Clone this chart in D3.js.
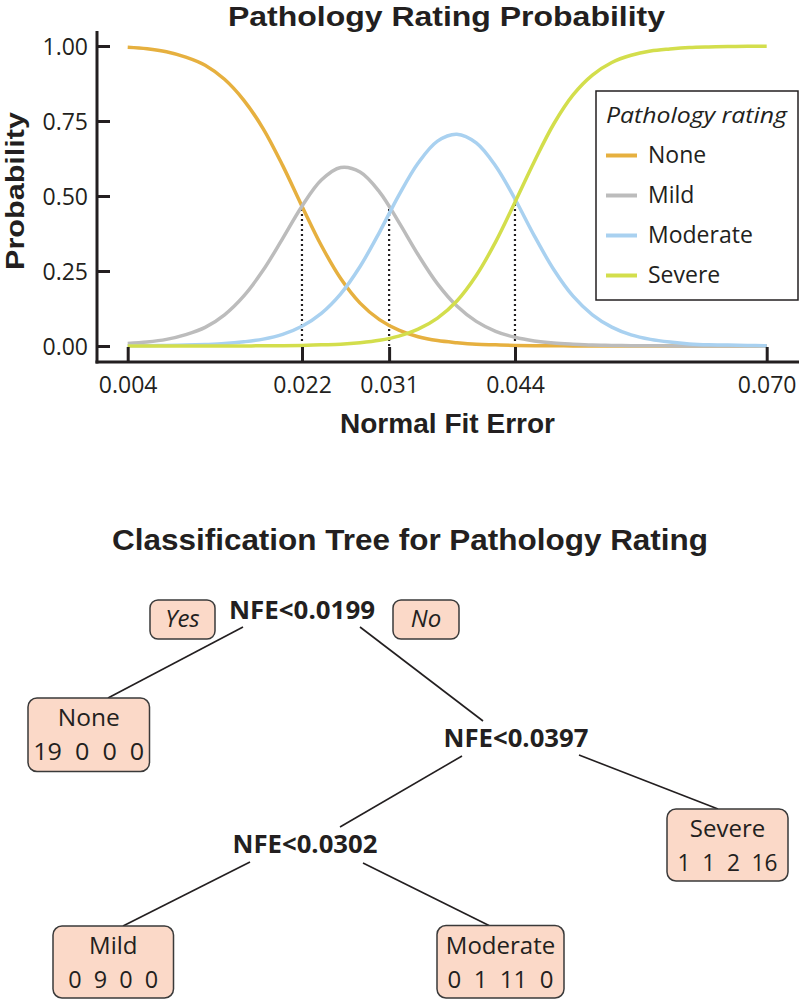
<!DOCTYPE html>
<html><head><meta charset="utf-8">
<script src="https://cdn.jsdelivr.net/npm/d3@7"></script>
<style>
html,body{margin:0;padding:0;background:#fff;}
svg{display:block;font-family:"Open Sans",sans-serif;}
.hd{font-family:"Liberation Sans",Arial,sans-serif;font-weight:700;}
</style></head><body>
<svg id="c" width="800" height="1000"></svg>
<script>
// ---------------- DATA ----------------
const xValues = [0.004,0.006,0.008,0.010,0.012,0.014,0.016,0.018,0.020,0.022,0.024,0.026,0.028,0.030,0.032,0.034,0.036,0.038,0.040,0.042,0.044,0.046,0.048,0.050,0.052,0.054,0.056,0.058,0.060,0.062,0.064,0.066,0.068,0.070];
const noneProb = [0.996,0.991,0.981,0.963,0.936,0.889,0.819,0.724,0.602,0.466,0.335,0.225,0.143,0.088,0.053,0.031,0.018,0.011,0.006,0.004,0.002,0.001,0.001,0.000,0.000,0.000,0.000,0.000,0.000,0.000,0.000,0.000,0.000,0.000];
const mildProb = [0.008,0.013,0.022,0.038,0.062,0.104,0.167,0.253,0.358,0.466,0.553,0.595,0.580,0.514,0.413,0.304,0.207,0.133,0.082,0.049,0.029,0.017,0.010,0.006,0.003,0.002,0.001,0.001,0.000,0.000,0.000,0.000,0.000,0.000];
const moderateProb = [0.001,0.001,0.002,0.003,0.005,0.008,0.014,0.023,0.039,0.066,0.109,0.174,0.265,0.379,0.502,0.610,0.683,0.706,0.677,0.600,0.490,0.367,0.255,0.166,0.104,0.063,0.037,0.022,0.013,0.007,0.004,0.003,0.002,0.001];
const severeProb = [0.000,0.000,0.000,0.000,0.000,0.000,0.000,0.001,0.001,0.002,0.004,0.006,0.011,0.019,0.033,0.056,0.093,0.150,0.235,0.347,0.479,0.615,0.740,0.837,0.903,0.945,0.969,0.983,0.990,0.995,0.997,0.998,0.999,0.999];
const seriesNames = ["None","Mild","Moderate","Severe"];
const xTicks = [0.004,0.022,0.031,0.044,0.070];
const yTicks = [0,0.25,0.50,0.75,1.00];
const cutX = [0.022,0.031,0.044];
const cutP = [0.466,0.457,0.489];

const nodeIds = ["n1","n2","n3","n4","n5","n6","n7"];
const nodeParents = ["","n1","n1","n3","n3","n4","n4"];
const nodeLabels = ["NFE<0.0199","None","NFE<0.0397","NFE<0.0302","Severe","Mild","Moderate"];
const nodeCounts = [null,[19,0,0,0],null,null,[1,1,2,16],[0,9,0,0],[0,1,11,0]];
const branchLabels = ["Yes","No"];

// ---------------- STYLE / LAYOUT ----------------
const colors = {None:"#e6b03f", Mild:"#bcbcbc", Moderate:"#a9d1f0", Severe:"#d3de4c"};
const ink = "#231f20";
const boxFill = "#fbd9c8";

const svg = d3.select("#c");
function fit(sel, w){
  sel.each(function(){
    const L = this.getComputedTextLength();
    if (Math.abs(L - w) / w > 0.02) d3.select(this).attr("textLength", w).attr("lengthAdjust","spacingAndGlyphs");
  });
  return sel;
}

// ---------------- TOP CHART ----------------
const x = d3.scaleLinear().domain([0.004,0.070]).range([127.7,766.7]);
const y = d3.scaleLinear().domain([0,1]).range([346,46]);

fit(svg.append("text").attr("class","hd").attr("x",446.5).attr("y",26).attr("text-anchor","middle")
  .attr("font-size",27.5).attr("fill",ink).text("Pathology Rating Probability"), 437);

// dotted cut lines
svg.append("g").selectAll("line").data(cutX).join("line")
  .attr("x1",d=>x(d)).attr("x2",d=>x(d))
  .attr("y1",y(0)).attr("y2",(d,i)=>y(cutP[i]))
  .attr("stroke",ink).attr("stroke-width",2.2).attr("stroke-dasharray","2,3");

// curves
const seriesVals = [noneProb, mildProb, moderateProb, severeProb];
const line = d3.line().x(d=>x(d[0])).y(d=>y(d[1])).curve(d3.curveCatmullRom.alpha(0.5));
svg.append("g").selectAll("path").data(seriesNames).join("path")
  .attr("d",(n,i)=>line(xValues.map((v,j)=>[v, seriesVals[i][j]])))
  .attr("fill","none").attr("stroke",n=>colors[n]).attr("stroke-width",3.5);

// axes
const gy = svg.append("g").attr("transform","translate(97,0)")
  .call(d3.axisLeft(y).tickValues(yTicks).tickFormat(d3.format(".2f")).tickSize(-13).tickPadding(9));
gy.select(".domain").remove();
gy.selectAll("line").attr("stroke",ink).attr("stroke-width",3);
gy.selectAll("text").attr("font-size",23).attr("font-family","'Open Sans',sans-serif").attr("fill",ink).attr("dy","0.37em");

const gx = svg.append("g").attr("transform","translate(0,362)")
  .call(d3.axisBottom(x).tickValues(xTicks).tickFormat(d3.format(".3f")).tickSize(-15).tickPadding(15));
gx.select(".domain").remove();
gx.selectAll("line").attr("stroke",ink).attr("stroke-width",3);
gx.selectAll("text").attr("font-size",23).attr("font-family","'Open Sans',sans-serif").attr("fill",ink);

svg.append("line").attr("x1",97).attr("x2",97).attr("y1",31).attr("y2",363.5).attr("stroke",ink).attr("stroke-width",3);
svg.append("line").attr("x1",95.5).attr("x2",799).attr("y1",362).attr("y2",362).attr("stroke",ink).attr("stroke-width",3);

fit(svg.append("text").attr("class","hd").attr("transform","translate(24,191) rotate(-90)").attr("text-anchor","middle")
  .attr("font-size",26).attr("fill",ink).text("Probability"), 158);
fit(svg.append("text").attr("class","hd").attr("x",447.5).attr("y",433).attr("text-anchor","middle")
  .attr("font-size",27).attr("fill",ink).text("Normal Fit Error"), 215);

// legend
const lg = svg.append("g");
lg.append("rect").attr("x",596).attr("y",91).attr("width",202).attr("height",209)
  .attr("fill","#fff").attr("stroke",ink).attr("stroke-width",1.5);
fit(lg.append("text").attr("x",606).attr("y",123).attr("font-size",22).attr("font-style","italic")
  .attr("fill",ink).text("Pathology rating"), 181);
const li = lg.selectAll("g.it").data(seriesNames).join("g").attr("class","it")
  .attr("transform",(d,i)=>`translate(0,${163 + i*40})`);
li.append("line").attr("x1",606).attr("x2",637).attr("y1",-7.5).attr("y2",-7.5)
  .attr("stroke",d=>colors[d]).attr("stroke-width",4);
li.append("text").attr("x",648).attr("y",0).attr("font-size",23).attr("fill",ink).text(d=>d);

// ---------------- TREE ----------------
fit(svg.append("text").attr("class","hd").attr("x",410).attr("y",550).attr("text-anchor","middle")
  .attr("font-size",29).attr("fill",ink).text("Classification Tree for Pathology Rating"), 596);

const layout = {
  n1:{cx:302, by:619, w:146, outL:[243,627], outR:[360,627]},
  n3:{cx:516, by:747, w:145, inP:[483,721], outL:[462,756], outR:[579,755]},
  n4:{cx:305, by:853, w:145, inP:[340,827], outL:[250,862], outR:[363,863]},
  n2:{x:28, y:698, w:121.5, h:73.5, inP:[108,698]},
  n5:{x:667, y:809, w:121, h:72, inP:[718,809]},
  n6:{x:53, y:926, w:120.5, h:72, inP:[123,926]},
  n7:{x:437, y:925.5, w:127, h:72.5, inP:[489,925.5]}
};
const labelW = {None:62, Severe:74, Mild:48, Moderate:108};
const countW = {n2:111, n5:100, n6:90, n7:105};

const root = d3.stratify().id((d,i)=>nodeIds[i]).parentId((d,i)=>nodeParents[i]||null)(nodeIds.map((id,i)=>({id, label:nodeLabels[i], counts:nodeCounts[i]})));
const tg = svg.append("g");

// edges
root.links().forEach(l=>{
  const p = layout[l.source.id], c = layout[l.target.id];
  const isLeft = l.source.children[0] === l.target;
  const s = isLeft ? p.outL : p.outR;
  tg.append("line").attr("x1",s[0]).attr("y1",s[1]).attr("x2",c.inP[0]).attr("y2",c.inP[1])
    .attr("stroke",ink).attr("stroke-width",1.6);
});

// nodes
root.descendants().forEach(n=>{
  const L = layout[n.id];
  if (n.data.counts){
    const g = tg.append("g");
    g.append("rect").attr("x",L.x).attr("y",L.y).attr("width",L.w).attr("height",L.h).attr("rx",9)
      .attr("fill",boxFill).attr("stroke","#3a3a3a").attr("stroke-width",1.5);
    fit(g.append("text").attr("x",L.x+L.w/2).attr("y",L.y+28).attr("text-anchor","middle")
      .attr("font-size",24).attr("fill",ink).text(n.data.label), labelW[n.data.label]);
    const ct = g.append("text").attr("x",L.x+L.w/2).attr("y",L.y+62).attr("text-anchor","middle")
      .attr("font-size",24).attr("fill",ink).style("white-space","pre").text(n.data.counts.join("  "));
    fit(ct, countW[n.id]);
  } else {
    fit(tg.append("text").attr("x",L.cx).attr("y",L.by).attr("text-anchor","middle")
      .attr("font-size",25).attr("font-weight",700).attr("fill",ink).text(n.data.label), L.w);
  }
});

// Yes / No
const ynLayout = [{x:150,y:600,w:65,h:39},{x:393,y:600,w:66,h:39}];
const yn = tg.selectAll("g.yn").data(branchLabels).join("g").attr("class","yn");
yn.append("rect").attr("x",(d,i)=>ynLayout[i].x).attr("y",(d,i)=>ynLayout[i].y)
  .attr("width",(d,i)=>ynLayout[i].w).attr("height",(d,i)=>ynLayout[i].h).attr("rx",8)
  .attr("fill",boxFill).attr("stroke","#3a3a3a").attr("stroke-width",1.5);
yn.append("text").attr("x",(d,i)=>ynLayout[i].x+ynLayout[i].w/2).attr("y",627)
  .attr("text-anchor","middle").attr("font-size",24).attr("font-style","italic").attr("fill",ink).text(d=>d);
</script>
</body></html>
